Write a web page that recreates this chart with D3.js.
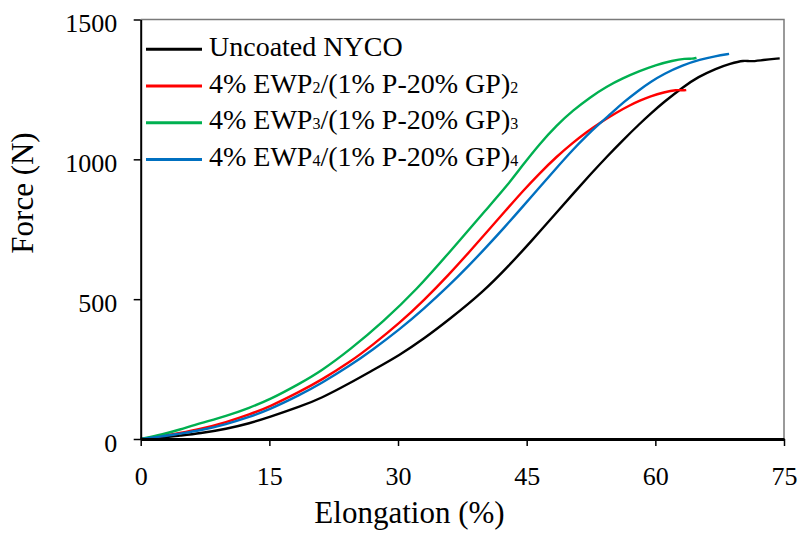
<!DOCTYPE html>
<html>
<head>
<meta charset="utf-8">
<script src="https://cdn.jsdelivr.net/npm/d3@7"></script>
<style>
	body { margin: 0; background: #fff; }
	svg { display: block; font-family: 'Liberation Serif', 'Times New Roman', serif; }
	svg text { font-family: 'Liberation Serif', 'Times New Roman', serif; }
</style>
</head>
<body>
<div id="chart"></div>
<script>
// tick values
const xTicks = [0, 15, 30, 45, 60, 75];
const yTicks = [0, 500, 1000, 1500];

// series (elongation %, force N)
const elongUncoated = [0, 2.5, 4.5, 6.9, 10, 12.7, 15, 18.6, 21, 24.4, 27, 30.2, 33, 36, 39.9, 43, 45.5, 48.5, 50.5, 52.4, 54.3, 56.2, 58.2, 59.4, 61, 63.2, 65, 67.1, 68.7, 70.4, 71, 72.5, 74.5];
const forceUncoated = [0, 5, 12, 20, 36, 56, 78, 116, 145, 200, 245, 300, 358, 428, 525, 622, 706, 810, 880, 945, 1008, 1068, 1128, 1162, 1205, 1258, 1295, 1325, 1342, 1355, 1349, 1355, 1361];

const elongEwp2 = [0, 2.5, 4.5, 6.9, 10, 12.7, 15, 18.6, 21, 24.4, 27, 30.2, 33, 36, 38.4, 40.5, 42.5, 44.5, 46.5, 48.5, 50.4, 52, 53.5, 55.5, 57, 58.2, 59.4, 61, 62.5, 63.2, 63.6];
const forceEwp2 = [0, 10, 21, 35, 60, 88, 115, 170, 210, 275, 335, 415, 495, 590, 672, 745, 815, 885, 950, 1010, 1060, 1098, 1130, 1168, 1193, 1210, 1225, 1240, 1249, 1246, 1248];

const elongEwp3 = [0, 2.5, 4.5, 6.9, 10, 12.7, 15, 18.6, 21, 24.4, 28.3, 32.2, 36, 40.5, 42.7, 44.5, 46.5, 48.5, 50.4, 52.4, 54.3, 56.2, 58.2, 60, 62, 63.5, 64.3, 64.8];
const forceEwp3 = [0, 16, 33, 56, 82, 112, 140, 199, 242, 319, 420, 535, 668, 828, 905, 978, 1055, 1122, 1175, 1222, 1260, 1290, 1316, 1337, 1353, 1361, 1359, 1363];

const elongEwp4 = [0, 2.5, 4.5, 6.9, 10, 12.7, 15, 18.6, 21, 24.4, 27, 30.2, 33, 36, 38.2, 40.3, 42.5, 44.4, 46.5, 48.5, 50.4, 52, 53.5, 55, 56.2, 58.2, 59.4, 61, 63.2, 65.2, 67, 68.6];
const forceEwp4 = [0, 9, 19, 30, 53, 79, 105, 158, 198, 262, 318, 392, 465, 550, 618, 686, 760, 826, 900, 970, 1035, 1085, 1128, 1168, 1202, 1250, 1276, 1306, 1337, 1357, 1369, 1377];

const seriesColors = ['#000000', '#ff0000', '#00b050', '#0070c0'];
// legend labels: [text, subscript, text, subscript]
const legendLabels = [
	['Uncoated NYCO'],
	['4% EWP', '2', '/(1% P-20% GP)', '2'],
	['4% EWP', '3', '/(1% P-20% GP)', '3'],
	['4% EWP', '4', '/(1% P-20% GP)', '4']
];

const series = [
	[elongUncoated, forceUncoated],
	[elongEwp2, forceEwp2],
	[elongEwp3, forceEwp3],
	[elongEwp4, forceEwp4]
].map(([e, f], i) => ({
	color: seriesColors[i],
	label: legendLabels[i],
	values: e.map((d, j) => ({ x: d, y: f[j] }))
}));

const W = 801;
const H = 534;
const plot = { left: 140.7, right: 784, top: 19.5, bottom: 439 };

const x = d3.scaleLinear().domain([0, 75]).range([plot.left, plot.right]);
const y = d3.scaleLinear().domain([0, 1500]).range([plot.bottom, plot.top]);

const $svg = d3
	.select('#chart')
	.append('svg')
	.attr('width', W)
	.attr('height', H);

// top + right frame
$svg
	.append('path')
	.attr('d', `M${plot.left},${plot.top}H${plot.right}V${plot.bottom}`)
	.attr('fill', 'none')
	.attr('stroke', '#7a7a7a')
	.attr('stroke-width', 1.5);

// curves (basis smooths out reading noise)
const line = d3
	.line()
	.x(d => x(d.x))
	.y(d => y(d.y))
	.curve(d3.curveBasis);

$svg
	.append('g')
	.attr('class', 'g-lines')
	.selectAll('path')
	.data(series)
	.join('path')
	.attr('d', d => line(d.values))
	.attr('fill', 'none')
	.attr('stroke', d => d.color)
	.attr('stroke-width', 2.4)
	.attr('stroke-linejoin', 'round');

// axes
const $xAxis = $svg
	.append('g')
	.attr('transform', `translate(0,${plot.bottom})`)
	.call(
		d3
			.axisBottom(x)
			.tickValues(xTicks)
			.tickFormat(d3.format('d'))
			.tickSizeInner(7)
			.tickSizeOuter(0)
			.tickPadding(21)
	);

const $yAxis = $svg
	.append('g')
	.attr('transform', `translate(${plot.left},0)`)
	.call(
		d3
			.axisLeft(y)
			.tickValues(yTicks)
			.tickFormat(d3.format('d'))
			.tickSizeInner(7)
			.tickSizeOuter(0)
			.tickPadding(16.5)
	);
$yAxis.selectAll('.tick text').attr('dy', '0.48em');

[$xAxis, $yAxis].forEach($a => {
	// drop d3's sans-serif defaults so the svg font is inherited
	$a.attr('font-family', null).attr('font-size', null);
	$a.selectAll('.tick text').attr('fill', '#000').style('font-size', '26px');
	$a.selectAll('.tick line').attr('stroke', '#000').attr('stroke-width', 1.5);
});
$xAxis.select('.domain').attr('stroke', '#000').attr('stroke-width', 3);
$yAxis.select('.domain').attr('stroke', '#000').attr('stroke-width', 2);

// axis titles
$svg
	.append('text')
	.attr('x', 409.5)
	.attr('y', 523)
	.attr('text-anchor', 'middle')
	.style('font-size', '31px')
	.text('Elongation (%)');

$svg
	.append('text')
	.attr('transform', 'translate(33,193) rotate(-90)')
	.attr('text-anchor', 'middle')
	.style('font-size', '31px')
	.text('Force (N)');

// legend
const $legend = $svg
	.append('g')
	.attr('class', 'g-legend')
	.selectAll('g')
	.data(series)
	.join('g')
	.attr('transform', (d, i) => `translate(146,${49.3 + i * 36.7})`);

$legend
	.append('line')
	.attr('x1', 0)
	.attr('x2', 56)
	.attr('stroke', d => d.color)
	.attr('stroke-width', 3);

const $label = $legend
	.append('text')
	.attr('x', 63)
	.attr('y', 6.5)
	.style('font-size', '28px');

$label
	.selectAll('tspan')
	.data(d => d.label)
	.join('tspan')
	.style('font-size', (d, i) => (i % 2 ? '16px' : null))
	.text(d => d);
</script>
</body>
</html>
